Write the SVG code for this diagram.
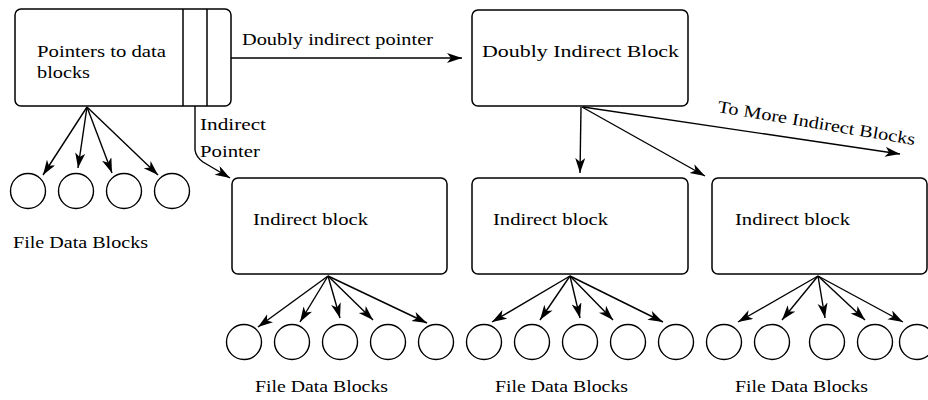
<svg xmlns="http://www.w3.org/2000/svg" width="928" height="400" viewBox="0 0 928 400">
<defs>
<marker id="ah" markerUnits="userSpaceOnUse" markerWidth="16" markerHeight="12" refX="15" refY="5" orient="auto">
<path d="M0,0 L15,5 L0,10 L4,5 z" fill="#000"/>
</marker>
<style>
.box{fill:#fff;stroke:#000;stroke-width:1.5}
.c{fill:#fff;stroke:#000;stroke-width:1.4}
.ln{fill:none;stroke:#000;stroke-width:1.4;marker-end:url(#ah)}
text{font-family:"Liberation Serif","DejaVu Serif",serif;font-size:17px;fill:#000}
</style>
</defs>
<rect width="928" height="400" fill="#fff"/>
<g id="inode">
<rect class="box" x="15" y="9" width="216" height="97" rx="6"/>
<line x1="183" y1="9" x2="183" y2="106" stroke="#000" stroke-width="1.5"/>
<line x1="207" y1="9" x2="207" y2="106" stroke="#000" stroke-width="1.5"/>
<text x="37" y="57" textLength="129" lengthAdjust="spacingAndGlyphs">Pointers to data</text>
<text x="37" y="78" textLength="53" lengthAdjust="spacingAndGlyphs">blocks</text>
</g>
<g id="doubly">
<rect class="box" x="472" y="10" width="216" height="96" rx="6"/>
<text x="482" y="57" textLength="197" lengthAdjust="spacingAndGlyphs">Doubly Indirect Block</text>
</g>
<g id="ind1">
<rect class="box" x="232" y="178" width="215" height="96" rx="6"/>
<text x="253" y="225" textLength="115" lengthAdjust="spacingAndGlyphs">Indirect block</text>
</g>
<g id="ind2">
<rect class="box" x="472" y="178" width="216" height="96" rx="6"/>
<text x="493" y="225" textLength="115" lengthAdjust="spacingAndGlyphs">Indirect block</text>
</g>
<g id="ind3">
<rect class="box" x="712" y="178" width="215" height="96" rx="6"/>
<text x="735" y="225" textLength="115" lengthAdjust="spacingAndGlyphs">Indirect block</text>
</g>
<g id="data0">
<circle class="c" cx="28" cy="191" r="17.5"/>
<circle class="c" cx="76" cy="191" r="17.5"/>
<circle class="c" cx="124" cy="191" r="17.5"/>
<circle class="c" cx="172" cy="191" r="17.5"/>
<text x="13" y="248" textLength="135" lengthAdjust="spacingAndGlyphs">File Data Blocks</text>
</g>
<g id="data1">
<circle class="c" cx="244" cy="342" r="17.5"/>
<circle class="c" cx="292" cy="342" r="17.5"/>
<circle class="c" cx="340" cy="342" r="17.5"/>
<circle class="c" cx="388" cy="342" r="17.5"/>
<circle class="c" cx="436" cy="342" r="17.5"/>
<text x="255" y="392" textLength="133" lengthAdjust="spacingAndGlyphs">File Data Blocks</text>
</g>
<g id="data2">
<circle class="c" cx="484" cy="342" r="17.5"/>
<circle class="c" cx="532" cy="342" r="17.5"/>
<circle class="c" cx="580" cy="342" r="17.5"/>
<circle class="c" cx="628" cy="342" r="17.5"/>
<circle class="c" cx="676" cy="342" r="17.5"/>
<text x="495" y="392" textLength="133" lengthAdjust="spacingAndGlyphs">File Data Blocks</text>
</g>
<g id="data3">
<circle class="c" cx="724" cy="342" r="17.5"/>
<circle class="c" cx="772" cy="342" r="17.5"/>
<circle class="c" cx="827" cy="342" r="17.5"/>
<circle class="c" cx="875" cy="342" r="17.5"/>
<circle class="c" cx="917" cy="342" r="17.5"/>
<text x="735" y="392" textLength="133" lengthAdjust="spacingAndGlyphs">File Data Blocks</text>
</g>
<g id="connectors">
<line class="ln" x1="87" y1="107" x2="43" y2="175"/>
<line class="ln" x1="87" y1="107" x2="78" y2="168"/>
<line class="ln" x1="87" y1="107" x2="112" y2="173"/>
<line class="ln" x1="87" y1="107" x2="158" y2="175"/>
<line class="ln" x1="231" y1="58" x2="462" y2="58"/>
<text x="242" y="45" textLength="191" lengthAdjust="spacingAndGlyphs">Doubly indirect pointer</text>
<path class="ln" d="M195,106 L195,150 Q196,157 203,162 L230,178"/>
<text x="200" y="130" textLength="66" lengthAdjust="spacingAndGlyphs">Indirect</text>
<text x="200" y="157" textLength="60" lengthAdjust="spacingAndGlyphs">Pointer</text>
<line class="ln" x1="581" y1="107" x2="580" y2="173"/>
<line class="ln" x1="582" y1="107" x2="705" y2="176"/>
<line class="ln" x1="583" y1="107" x2="900" y2="154"/>
<text x="717" y="112" transform="rotate(9.5 717 112)" textLength="200" lengthAdjust="spacingAndGlyphs">To More Indirect Blocks</text>
<line class="ln" x1="328" y1="276" x2="258" y2="327"/>
<line class="ln" x1="328" y1="276" x2="300" y2="322"/>
<line class="ln" x1="328" y1="276" x2="340" y2="318"/>
<line class="ln" x1="328" y1="276" x2="373" y2="320"/>
<line class="ln" x1="328" y1="276" x2="427" y2="323"/>
<line class="ln" x1="570" y1="276" x2="492" y2="322"/>
<line class="ln" x1="570" y1="276" x2="540" y2="320"/>
<line class="ln" x1="570" y1="276" x2="580" y2="318"/>
<line class="ln" x1="570" y1="276" x2="613" y2="320"/>
<line class="ln" x1="570" y1="276" x2="663" y2="322"/>
<line class="ln" x1="818" y1="276" x2="738" y2="322"/>
<line class="ln" x1="818" y1="276" x2="782" y2="320"/>
<line class="ln" x1="818" y1="276" x2="825" y2="318"/>
<line class="ln" x1="818" y1="276" x2="865" y2="320"/>
<line class="ln" x1="818" y1="276" x2="903" y2="322"/>
</g>
</svg>
